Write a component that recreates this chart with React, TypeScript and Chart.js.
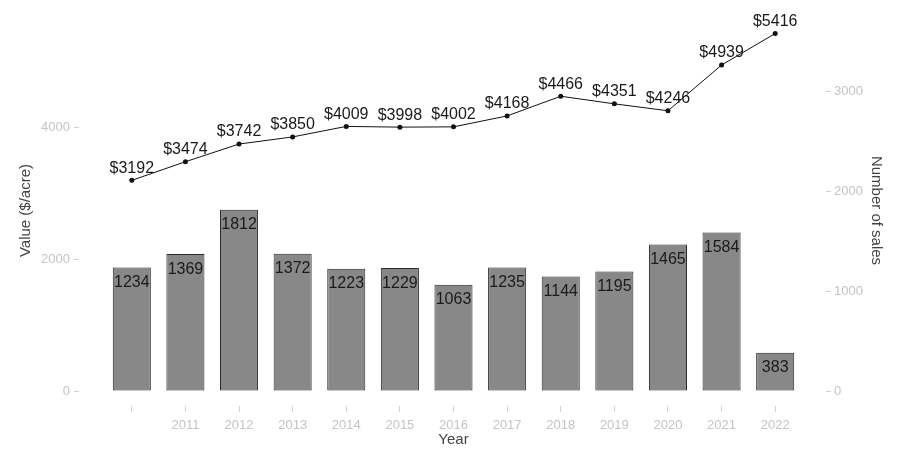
import React, { useEffect, useRef } from "react";
import { Chart, registerables } from "chart.js";

Chart.register(...registerables);

const years = ["", "2011", "2012", "2013", "2014", "2015", "2016", "2017", "2018", "2019", "2020", "2021", "2022"];
const salesCounts = [1234, 1369, 1812, 1372, 1223, 1229, 1063, 1235, 1144, 1195, 1465, 1584, 383];
const valuePerAcre = [3192, 3474, 3742, 3850, 4009, 3998, 4002, 4168, 4466, 4351, 4246, 4939, 5416];
const valueTicks = [0, 2000, 4000];
const salesTicks = [0, 1000, 2000, 3000];

const FONT = "'Liberation Sans', Arial, sans-serif";
const DASH_COLOR = "#d0d0d0";

const labelPlugin = {
  id: "valueLabels",
  afterDatasetsDraw(chart: any) {
    const ctx = chart.ctx;
    ctx.save();
    ctx.font = `16px ${FONT}`;
    ctx.fillStyle = "#1a1a1a";
    ctx.textAlign = "center";
    ctx.textBaseline = "middle";
    const barMeta = chart.getDatasetMeta(0);
    barMeta.data.forEach((el: any, i: number) => {
      ctx.fillText(String(salesCounts[i]), el.x, el.y + 15);
    });
    const lineMeta = chart.getDatasetMeta(1);
    lineMeta.data.forEach((el: any, i: number) => {
      ctx.fillText("$" + valuePerAcre[i], el.x, el.y - 12);
    });
    // small faint tick dashes next to the y-axis labels
    ctx.strokeStyle = DASH_COLOR;
    ctx.lineWidth = 1;
    const yl = chart.scales.yValue;
    valueTicks.forEach((v) => {
      const y = Math.round(yl.getPixelForValue(v)) + 0.5;
      ctx.beginPath();
      ctx.moveTo(yl.right - 31, y);
      ctx.lineTo(yl.right - 26, y);
      ctx.stroke();
    });
    const yr = chart.scales.ySales;
    salesTicks.forEach((v) => {
      const y = Math.round(yr.getPixelForValue(v)) + 0.5;
      ctx.beginPath();
      ctx.moveTo(yr.left + 24, y);
      ctx.lineTo(yr.left + 29, y);
      ctx.stroke();
    });
    ctx.restore();
  },
};

export default function App() {
  const ref = useRef<HTMLCanvasElement>(null);
  useEffect(() => {
    if (!ref.current) return;
    const tickColor = "#c4c4c4";
    const chart = new Chart(ref.current, {
      type: "bar",
      data: {
        labels: years,
        datasets: [
          {
            type: "bar",
            label: "Number of sales",
            data: salesCounts,
            yAxisID: "ySales",
            backgroundColor: "#888888",
            borderColor: "#2a2a2a",
            borderWidth: 1,
            borderSkipped: false,
            barPercentage: 0.71,
            categoryPercentage: 1,
            order: 2,
          },
          {
            type: "line",
            label: "Value",
            data: valuePerAcre,
            yAxisID: "yValue",
            borderColor: "#111111",
            backgroundColor: "#111111",
            borderWidth: 1,
            pointRadius: 2.5,
            pointBackgroundColor: "#111111",
            pointBorderWidth: 0,
            tension: 0,
            clip: false,
            order: 1,
          },
        ] as any,
      },
      plugins: [labelPlugin],
      options: {
        animation: false,
        responsive: false,
        maintainAspectRatio: false,
        layout: { padding: { top: 15, bottom: 0, left: 0, right: 0 } },
        plugins: { legend: { display: false }, tooltip: { enabled: false } },
        scales: {
          x: {
            grid: { display: true, drawOnChartArea: false, tickLength: 6, color: "#d4d4d4", offset: false },
            border: { display: false },
            ticks: { color: tickColor, font: { family: FONT, size: 13 }, padding: 6, maxRotation: 0 },
            title: { display: true, text: "Year", color: "#444444", font: { family: FONT, size: 15 }, padding: { top: 0, bottom: 10 } },
            afterFit(scale: any) { scale.height = 53; },
          },
          yValue: {
            type: "linear",
            position: "left",
            min: -227,
            max: 5697,
            grid: { display: true, drawOnChartArea: false, tickLength: 30, tickColor: "rgba(0,0,0,0)", color: "rgba(0,0,0,0)" },
            border: { display: false },
            ticks: { color: tickColor, font: { family: FONT, size: 13 }, padding: 5, callback: (v: any) => String(v) },
            afterBuildTicks(scale: any) { scale.ticks = valueTicks.map((v) => ({ value: v })); },
            title: { display: true, text: "Value ($/acre)", color: "#444444", font: { family: FONT, size: 15 }, padding: { top: 17, bottom: 0 } },
            afterFit(scale: any) { scale.width = 105; },
          },
          ySales: {
            type: "linear",
            position: "right",
            min: -150,
            max: 3760,
            grid: { display: true, drawOnChartArea: false, tickLength: 27, tickColor: "rgba(0,0,0,0)", color: "rgba(0,0,0,0)" },
            border: { display: false },
            ticks: { color: tickColor, font: { family: FONT, size: 13 }, padding: 5, callback: (v: any) => String(v) },
            afterBuildTicks(scale: any) { scale.ticks = salesTicks.map((v) => ({ value: v })); },
            title: { display: true, text: "Number of sales", color: "#444444", font: { family: FONT, size: 15 }, padding: { top: 16, bottom: 0 } },
            afterFit(scale: any) { scale.width = 99; },
          },
        },
      } as any,
    });
    return () => chart.destroy();
  }, []);
  return (
    <div style={{ position: "fixed", left: 0, top: 0, width: 901, height: 459, background: "#ffffff" }}>
      <canvas ref={ref} width={901} height={459} style={{ width: 901, height: 459, display: "block" }} />
    </div>
  );
}
